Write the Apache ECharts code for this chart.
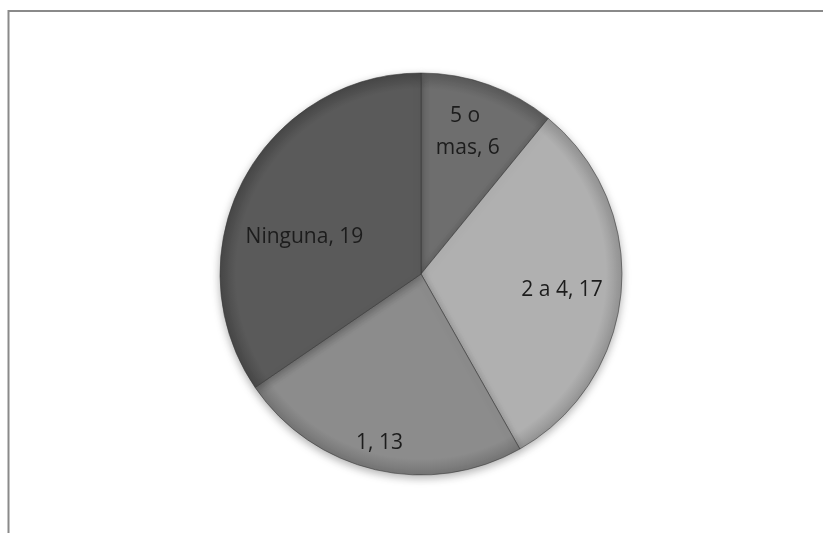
<!DOCTYPE html>
<html>
<head>
<meta charset="utf-8">
<script src="https://cdn.jsdelivr.net/npm/echarts@6/dist/echarts.min.js"></script>
<style>html,body{margin:0;padding:0;background:#fff;}#c{width:823px;height:533px;}</style>
</head>
<body>
<div id="c"></div>
<script>
var categories = ['5 o mas', '2 a 4', '1', 'Ninguna'];
var values = [6, 17, 13, 19];

var sliceColors = [['#6e6e6e', '#5a5a5a'], ['#b0b0b0', '#949494'], ['#8c8c8c', '#747474'], ['#5a5a5a', '#474747']];
var labelOffsets = [[12, -45], [38, 7], [-18, 68], [-25, 11]];
var labelWidths = [74, null, null, null];
var CX = 421, CY = 274, R = 201;

var chart = echarts.init(document.getElementById('c'));
var data = categories.map(function (name, i) {
  var lbl = { offset: labelOffsets[i] };
  if (labelWidths[i]) { lbl.width = labelWidths[i]; lbl.overflow = 'break'; }
  return {
    name: name,
    value: values[i],
    itemStyle: {
      color: {
        type: 'radial', x: CX, y: CY, r: R, global: true,
        colorStops: [
          { offset: 0, color: sliceColors[i][0] },
          { offset: 0.92, color: sliceColors[i][0] },
          { offset: 1, color: sliceColors[i][1] }
        ]
      }
    },
    label: lbl
  };
});

chart.setOption({
  animation: false,
  backgroundColor: '#ffffff',
  graphic: [{
    type: 'rect',
    shape: { x: 8.5, y: 11, width: 830, height: 540 },
    style: { fill: 'none', stroke: '#8a8a8a', lineWidth: 2 }
  }],
  series: [{
    type: 'pie',
    center: [CX, CY],
    radius: [0, R],
    startAngle: 90,
    clockwise: true,
    avoidLabelOverlap: false,
    itemStyle: {
      borderColor: 'rgba(55,55,55,0.55)',
      borderWidth: 1,
      shadowBlur: 8,
      shadowOffsetY: 3,
      shadowColor: 'rgba(0,0,0,0.3)'
    },
    label: {
      show: true,
      position: 'inside',
      formatter: '{b}, {c}',
      color: '#1c1c1c',
      fontSize: 21,
      fontFamily: 'Open Sans',
      lineHeight: 32
    },
    labelLine: { show: false },
    emphasis: { disabled: true },
    data: data
  }]
});
</script>
</body>
</html>
